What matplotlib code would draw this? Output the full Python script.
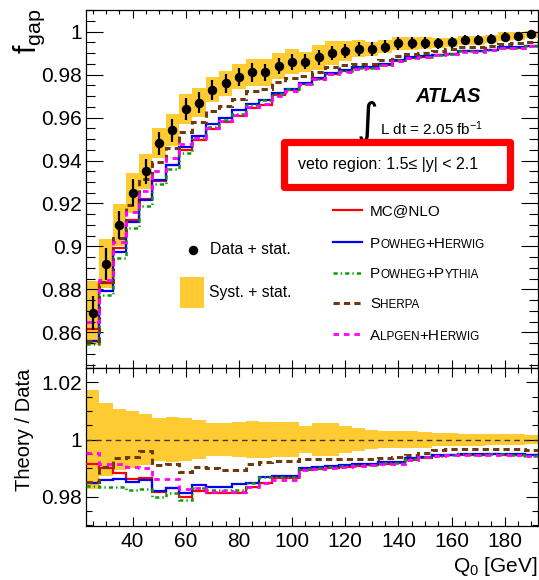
import numpy as np
import matplotlib
matplotlib.use("Agg")
import matplotlib.pyplot as plt
from matplotlib.patches import Rectangle
from matplotlib.ticker import MultipleLocator, FuncFormatter
from matplotlib.transforms import offset_copy

plt.rcParams['font.family'] = ['Liberation Sans', 'DejaVu Sans']
plt.rcParams['mathtext.fontset'] = 'custom'
plt.rcParams['mathtext.rm'] = 'Liberation Sans'
plt.rcParams['mathtext.it'] = 'Liberation Sans:italic'
plt.rcParams['mathtext.bf'] = 'Liberation Sans:bold'
plt.rcParams['lines.scale_dashes'] = False

# bins in Q0 [GeV], 5 GeV wide
q_edges = np.arange(22.5, 193.0, 5.0)
q_centers = 0.5 * (q_edges[1:] + q_edges[:-1])

# gap fraction, data
fgap_data = [0.869, 0.892, 0.910, 0.925, 0.935, 0.948, 0.954, 0.964, 0.967, 0.973,
             0.976, 0.979, 0.981, 0.981, 0.984, 0.986, 0.986, 0.988, 0.990, 0.991,
             0.992, 0.992, 0.993, 0.9946, 0.9946, 0.9946, 0.9946, 0.995, 0.996, 0.996,
             0.9966, 0.9977, 0.998, 0.9988]
stat_err = [0.008, 0.0074, 0.0066, 0.0062, 0.0058, 0.0055, 0.0052, 0.005, 0.0048, 0.0046,
            0.0045, 0.0043, 0.0042, 0.004, 0.0039, 0.0038, 0.0036, 0.0035, 0.0034, 0.0033,
            0.0032, 0.0031, 0.003, 0.0029, 0.0028, 0.0027, 0.0026, 0.0025, 0.0024, 0.0023,
            0.0022, 0.0021, 0.002, 0.002]
# relative syst + stat uncertainty
tot_rel = [0.0173, 0.0127, 0.0106, 0.0101, 0.0088, 0.0074, 0.0078, 0.0074, 0.0068, 0.0059,
           0.0059, 0.006, 0.0066, 0.0063, 0.006, 0.006, 0.0048, 0.0058, 0.0058, 0.0047,
           0.004, 0.0033, 0.003, 0.003, 0.003, 0.0028, 0.0024, 0.0023, 0.0021, 0.0021,
           0.002, 0.002, 0.002, 0.0016]

# theory predictions
mcnlo = [0.8615, 0.8830, 0.8995, 0.9124, 0.9223, 0.9307, 0.9379, 0.9447, 0.9496, 0.9547,
         0.9579, 0.9608, 0.9646, 0.9660, 0.9707, 0.9727, 0.9756, 0.9779, 0.9801, 0.9816,
         0.9829, 0.9831, 0.9845, 0.9864, 0.9876, 0.9883, 0.9890, 0.9896, 0.9908, 0.9908,
         0.9914, 0.9924, 0.9926, 0.9933]
powheg_herwig = [0.8559, 0.8793, 0.8976, 0.9113, 0.9217, 0.9310, 0.9377, 0.9461, 0.9516, 0.9568,
                 0.9597, 0.9637, 0.9662, 0.9683, 0.9714, 0.9734, 0.9761, 0.9784, 0.9808, 0.9821,
                 0.9834, 0.9837, 0.9851, 0.9869, 0.9881, 0.9886, 0.9892, 0.9898, 0.9910, 0.9910,
                 0.9916, 0.9927, 0.9928, 0.9934]
powheg_pythia = [0.8548, 0.8773, 0.8948, 0.9086, 0.9190, 0.9289, 0.9361, 0.9436, 0.9505, 0.9558,
                 0.9587, 0.9617, 0.9660, 0.9680, 0.9712, 0.9732, 0.9758, 0.9781, 0.9805, 0.9819,
                 0.9831, 0.9833, 0.9847, 0.9866, 0.9878, 0.9884, 0.9890, 0.9897, 0.9909, 0.9908,
                 0.9914, 0.9925, 0.9926, 0.9932]
sherpa = [0.8561, 0.8835, 0.9040, 0.9195, 0.9313, 0.9395, 0.9460, 0.9531, 0.9578, 0.9632,
          0.9656, 0.9687, 0.9726, 0.9734, 0.9766, 0.9786, 0.9794, 0.9814, 0.9834, 0.9844,
          0.9851, 0.9851, 0.9867, 0.9886, 0.9894, 0.9901, 0.9911, 0.9918, 0.9928, 0.9928,
          0.9933, 0.9944, 0.9948, 0.9953]
alpgen_herwig = [0.8649, 0.8845, 0.9022, 0.9162, 0.9256, 0.9351, 0.9410, 0.9475, 0.9505, 0.9552,
                 0.9584, 0.9611, 0.9648, 0.9662, 0.9702, 0.9722, 0.9756, 0.9779, 0.9801, 0.9814,
                 0.9827, 0.9831, 0.9844, 0.9862, 0.9876, 0.9884, 0.9890, 0.9896, 0.9907, 0.9907,
                 0.9913, 0.9923, 0.9925, 0.9932]

# lowercase letters are drawn as small capitals
model_labels = ['MC@NLO', 'Powheg+Herwig', 'Powheg+Pythia', 'Sherpa', 'Alpgen+Herwig']
model_values = [mcnlo, powheg_herwig, powheg_pythia, sherpa, alpgen_herwig]
model_styles = [
    dict(color='#FF0000', linewidth=1.6, linestyle='-'),
    dict(color='#0000FF', linewidth=1.6, linestyle='-'),
    dict(color='#0C9A0C', linewidth=1.8, linestyle=(0, (3, 2.2, 1, 2.2))),
    dict(color='#6B3A0E', linewidth=2.2, linestyle=(0, (4.5, 3))),
    dict(color='#FF00FF', linewidth=2.0, linestyle=(0, (4, 3.5))),
]
BAND = '#FFCB33'

data = np.array(fgap_data)
rel = np.array(tot_rel)

W, H = 539, 580
L, R = 86, 538
fig = plt.figure(figsize=(W / 100, H / 100), dpi=100)
ax1 = fig.add_axes([L / W, 1 - 368 / H, (R - L) / W, (368 - 10) / H])
ax2 = fig.add_axes([L / W, 1 - 526 / H, (R - L) / W, (526 - 368) / H])

# top panel
ax1.bar(q_centers, 2 * data * rel, bottom=data * (1 - rel), width=5.0,
        color=BAND, linewidth=0, zorder=1)
for vals, st in zip(model_values, model_styles):
    ax1.stairs(vals, q_edges, baseline=None, zorder=2, **st)
ax1.errorbar(q_centers, data, yerr=stat_err, fmt='o', color='k', ms=5.8,
             elinewidth=1.6, capsize=0, zorder=3)

# ratio panel
ax2.bar(q_centers, 2 * rel, bottom=1 - rel, width=5.0, color=BAND, linewidth=0, zorder=1)
ax2.axhline(1.0, color='#3a3a2a', linewidth=1.0, linestyle=(0, (4, 3)), zorder=2)
for vals, st in zip(model_values, model_styles):
    ax2.stairs(np.array(vals) / data, q_edges, baseline=None, zorder=3, **st)

fmt = FuncFormatter(lambda v, p: '%g' % round(v, 4))
for ax in (ax1, ax2):
    ax.set_xlim(22.5, 192.5)
    ax.xaxis.set_major_locator(MultipleLocator(20))
    ax.xaxis.set_minor_locator(MultipleLocator(5))
    ax.yaxis.set_major_locator(MultipleLocator(0.02))
    ax.yaxis.set_minor_locator(MultipleLocator(0.005))
    ax.yaxis.set_major_formatter(fmt)
    ax.tick_params(which='both', direction='in', top=True, right=True,
                   width=0.8, labelsize=15, color='k')
    for sp in ax.spines.values():
        sp.set_linewidth(0.9)

ax1.set_ylim(0.8434, 1.0101)
ax1.tick_params(axis='y', which='major', length=12, pad=3)
ax1.tick_params(axis='y', which='minor', length=6.5)
ax1.tick_params(axis='x', which='major', length=6)
ax1.tick_params(axis='x', which='minor', length=3)
ax1.tick_params(axis='x', labelbottom=False)

ax2.set_ylim(0.9698, 1.025)
ax2.tick_params(axis='y', which='major', length=8.6, pad=3)
ax2.tick_params(axis='y', which='minor', length=4.3)
ax2.tick_params(axis='x', which='major', length=6.5, pad=4)
ax2.tick_params(axis='x', which='minor', length=3.6)


def fx(px):
    return (px - L) / (R - L)


def fy(py):
    return (368 - py) / (368 - 10)


# labels
fig.text(29 / W, 1 - 8 / H, r'$\mathregular{f_{gap}}$', rotation=90, ha='center',
         va='top', fontsize=22)
fig.text(25 / W, 1 - 430 / H, 'Theory / Data', rotation=90, ha='center', va='center',
         fontsize=14.5)
fig.text(R / W, 1 - 567 / H, r'Q$_{\mathregular{0}}$ [GeV]', ha='right', va='center',
         fontsize=15)

# annotations
ax1.text(fx(415), fy(96.5), 'ATLAS', transform=ax1.transAxes, fontsize=14.5,
         fontweight='bold', style='italic', va='center', ha='left')
ax1.text(fx(367), fy(121), '\u222b', transform=ax1.transAxes, fontsize=30,
         family='DejaVu Sans', va='center', ha='center')
ax1.text(fx(380), fy(129), r'L dt = 2.05 fb$^{\mathregular{-1}}$', transform=ax1.transAxes,
         fontsize=11, va='center', ha='left')
ax1.add_patch(Rectangle((fx(283.5), fy(186.5)), fx(509.5) - fx(283.5), fy(141.5) - fy(186.5),
                        transform=ax1.transAxes, facecolor='white', edgecolor='#FF0000',
                        linewidth=5.2, joinstyle='round', zorder=5, clip_on=False))
ax1.text(fx(298), fy(164.5), 'veto region: 1.5\u2264 |y| < 2.1', transform=ax1.transAxes,
         fontsize=11.5, va='center', ha='left', zorder=6)

# left legend
ax1.plot([fx(193)], [fy(250)], 'o', color='k', ms=5.8, transform=ax1.transAxes)
ax1.text(fx(210), fy(250), 'Data + stat.', transform=ax1.transAxes, fontsize=11.3,
         va='center', ha='left')
ax1.add_patch(Rectangle((fx(180), fy(308)), fx(204) - fx(180), fy(277) - fy(308),
                        transform=ax1.transAxes, facecolor=BAND, edgecolor='none'))
ax1.text(fx(209), fy(293), 'Syst. + stat.', transform=ax1.transAxes, fontsize=11.3,
         va='center', ha='left')


def small_caps(ax, x, y, label, big=11, small=8.4):
    renderer = fig.canvas.get_renderer()
    runs = []
    for ch in label:
        low = ch.islower()
        if runs and runs[-1][1] == low:
            runs[-1][0] += ch
        else:
            runs.append([ch, low])
    dx = 0.0
    for txt, low in runs:
        tr = offset_copy(ax.transAxes, fig=fig, x=dx, y=0, units='points')
        t = ax.text(x, y, txt.upper(), fontsize=small if low else big, transform=tr,
                    va='baseline', ha='left')
        dx += t.get_window_extent(renderer).width * 72.0 / fig.dpi


rows = [210, 242, 273, 303, 334]
for lab, st, row in zip(model_labels, model_styles, rows):
    ax1.plot([fx(333), fx(362)], [fy(row), fy(row)], transform=ax1.transAxes, **st)
    small_caps(ax1, fx(370), fy(row + 5.5), lab)

fig.savefig('out.png', dpi=100)
